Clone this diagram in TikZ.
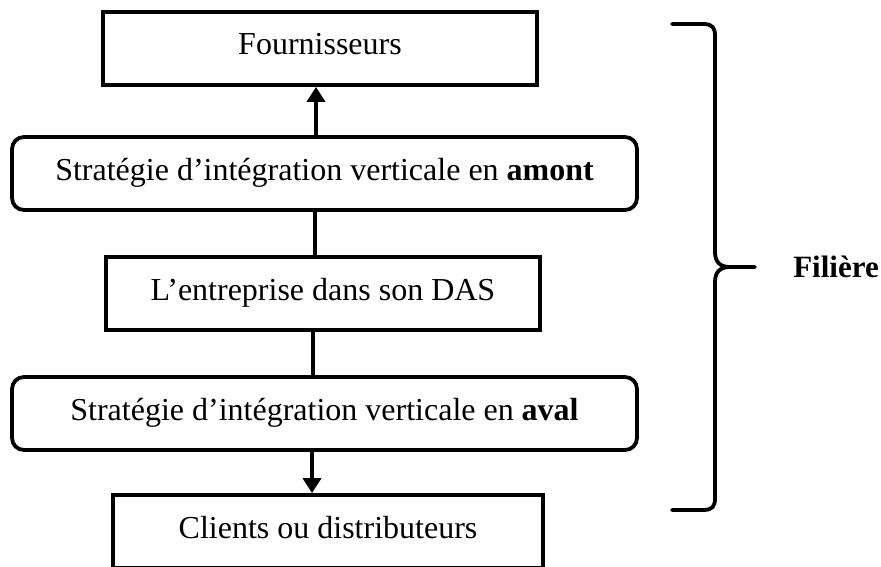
\documentclass[tikz,border=0pt]{standalone}
\usepackage{fontspec}
\setmainfont{Liberation Serif}
\usetikzlibrary{arrows.meta}
\begin{document}
\begin{tikzpicture}[x=1pt,y=-1pt,
  box/.style={draw=black, line width=3.8pt, inner sep=0pt, align=center,
    font=\fontsize{32}{38}\selectfont, text height=22pt, text depth=9pt},
  sqbox/.style={box, rectangle},
  rbox/.style={box, rounded corners=12pt},
  link/.style={line width=4.2pt},
  arr/.style={line width=4.2pt, -{Triangle[width=18pt,length=15pt]}},
  brace/.style={line width=3.8pt, line cap=round, line join=round}]
\useasboundingbox (0,0) rectangle (881,567);
\clip (0,0) rectangle (881,567);
\node[sqbox, minimum width=434pt, minimum height=73pt] (four) at (320,48.5) {Fournisseurs};
\node[rbox, minimum width=625pt, minimum height=73pt] (amont) at (324.5,173.5) {Stratégie d’intégration verticale en \textbf{amont}};
\node[sqbox, minimum width=434pt, minimum height=73pt] (das) at (323,293.5) {L’entreprise dans son DAS};
\node[rbox, minimum width=625pt, minimum height=73pt] (aval) at (324.5,413.5) {Stratégie d’intégration verticale en \textbf{aval}};
\node[sqbox, minimum width=430pt, minimum height=73pt] (cli) at (328,531.5) {Clients ou distributeurs};
\coordinate (x1) at (316,0);
\coordinate (x2) at (315,0);
\coordinate (x3) at (313,0);
\coordinate (x4) at (312,0);
\draw[arr] (amont.north -| x1) -- (four.south -| x1);
\draw[link] (amont.south -| x2) -- (das.north -| x2);
\draw[link] (das.south -| x3) -- (aval.north -| x3);
\draw[arr] (aval.south -| x4) -- (cli.north -| x4);
\draw[brace] (672,24) -- (703,24) .. controls (713,24) and (715,28) .. (715,36) -- (715,252)
  .. controls (715,262) and (720,267) .. (730,267) -- (755,267);
\draw[brace] (730,267) .. controls (720,267) and (715,272) .. (715,282) -- (715,498)
  .. controls (715,506) and (713,510) .. (703,510) -- (672,510);
\node[font=\fontsize{31}{36}\selectfont\bfseries, inner sep=0pt] (fil) at (836,267) {Filière};
\end{tikzpicture}
\end{document}
